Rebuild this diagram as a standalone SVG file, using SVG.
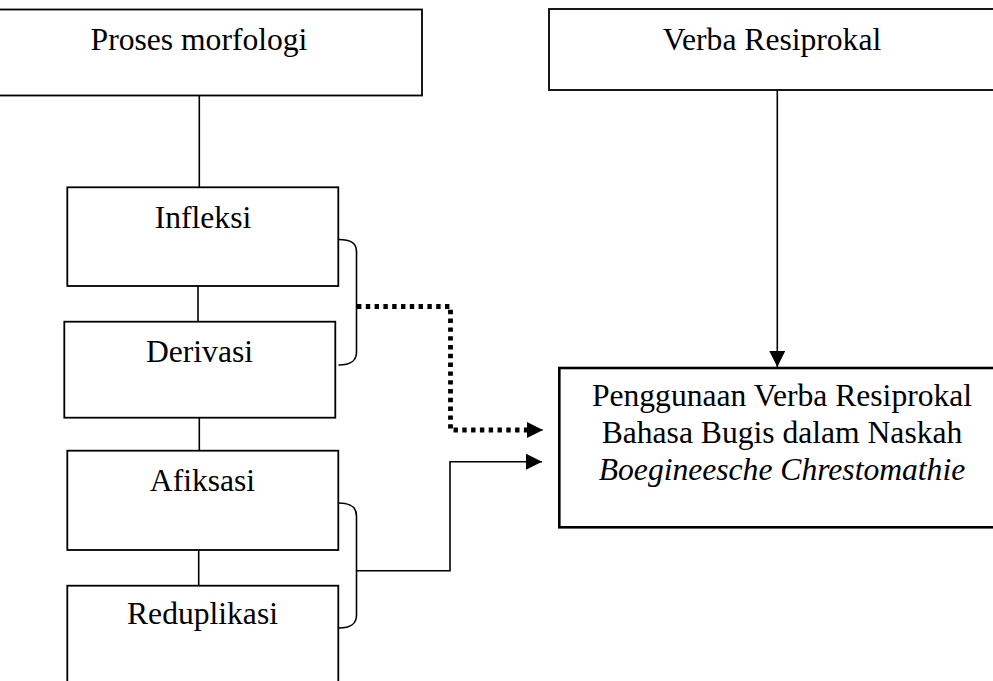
<svg xmlns="http://www.w3.org/2000/svg" width="993" height="681" viewBox="0 0 993 681">
<style>
.box{fill:#fff;stroke:#000;stroke-width:1.8}
.thick{stroke-width:2.6}
.t{font-family:"Liberation Serif","Times New Roman",serif;font-size:31.6px;fill:#000;text-anchor:middle}
.it{font-style:italic}
.ln{fill:none;stroke:#000;stroke-width:1.6}
.dot{fill:none;stroke:#000;stroke-width:4.8;stroke-dasharray:4.4 4.4}
</style>
<defs>
<marker id="ah" markerUnits="userSpaceOnUse" markerWidth="16" markerHeight="16" viewBox="0 0 16 16" refX="16" refY="8" orient="auto">
<path d="M0,0 L16,8 L0,16 Z" fill="#000"/>
</marker>
</defs>
<g id="connectors">
<line class="ln" x1="199.3" y1="95" x2="199.3" y2="187"/>
<line class="ln" x1="198" y1="286" x2="198" y2="322"/>
<line class="ln" x1="199.3" y1="418" x2="199.3" y2="451"/>
<line class="ln" x1="198.7" y1="550" x2="198.7" y2="586"/>
<path class="ln" d="M338.5,239.5 C351,239.5 356.5,243 356.5,252 L356.5,352 C356.5,361 351,365 338.5,365"/>
<path class="ln" d="M338.5,503 C351,503 356.5,507 356.5,516 L356.5,615 C356.5,624 351,628 338.5,628"/>
<path class="dot" d="M357,306.5 H450.5 V430 H528"/>
<line x1="526" y1="430" x2="543" y2="430" stroke="#000" stroke-width="1" marker-end="url(#ah)"/>
<path class="ln" d="M356.5,570.7 H450 V461.7 H542" marker-end="url(#ah)"/>
<line class="ln" x1="777.3" y1="90" x2="777.3" y2="367" marker-end="url(#ah)"/>
</g>
<g id="proses-morfologi">
<rect class="box" x="-24" y="9.5" width="446" height="86"/>
<text class="t" x="199" y="50">Proses morfologi</text>
</g>
<g id="verba-resiprokal">
<rect class="box" x="549" y="9" width="446" height="81"/>
<text class="t" x="772" y="50">Verba Resiprokal</text>
</g>
<g id="infleksi">
<rect class="box" x="67.3" y="187.3" width="271" height="98.7"/>
<text class="t" x="203" y="228">Infleksi</text>
</g>
<g id="derivasi">
<rect class="box" x="64.3" y="321.7" width="271" height="96"/>
<text class="t" x="199.5" y="361.7">Derivasi</text>
</g>
<g id="afiksasi">
<rect class="box" x="67.3" y="450.7" width="271" height="99.3"/>
<text class="t" x="202.5" y="490.7">Afiksasi</text>
</g>
<g id="reduplikasi">
<rect class="box" x="67.3" y="585.7" width="271" height="130"/>
<text class="t" x="202.5" y="623.5">Reduplikasi</text>
</g>
<g id="penggunaan">
<rect class="box thick" x="559.3" y="368" width="446" height="159.3"/>
<text class="t" x="782" y="406">Penggunaan Verba Resiprokal</text>
<text class="t" x="782" y="443">Bahasa Bugis dalam Naskah</text>
<text class="t it" x="782" y="480">Boegineesche Chrestomathie</text>
</g>
</svg>
